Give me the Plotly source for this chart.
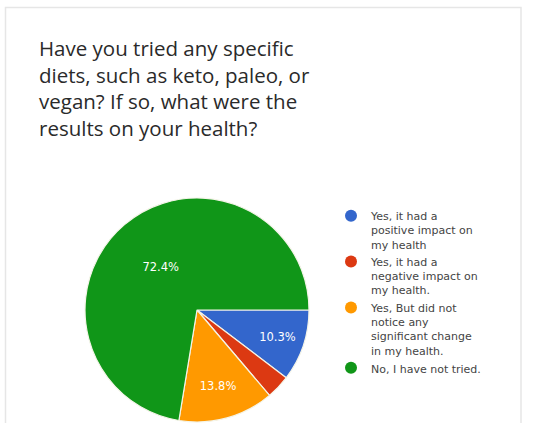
import plotly.graph_objects as go

# Data
categories = [
    "Yes, it had a<br>positive impact on<br>my health",
    "Yes, it had a<br>negative impact on<br>my health.",
    "Yes, But did not<br>notice any<br>significant change<br>in my health.",
    "No, I have not tried.",
]
counts = [3, 1, 4, 21]
colors = ["#3366cc", "#dc3912", "#ff9900", "#109618"]
title_lines = [
    "Have you tried any specific",
    "diets, such as keto, paleo, or",
    "vegan? If so, what were the",
    "results on your health?",
]

W, H = 533, 423
def px(x):
    return x / W
def py(y):
    return 1 - y / H

total = sum(counts)
labels_text = [f"{c / total * 100:.1f}%" if c / total >= 0.05 else "" for c in counts]

fig = go.Figure()
fig.add_trace(go.Pie(
    labels=categories,
    values=counts,
    text=labels_text,
    textinfo="text",
    textposition="inside",
    insidetextfont=dict(color="white", size=11.5, family="DejaVu Sans, Arial, sans-serif"),
    marker=dict(colors=colors, line=dict(color="#f4f4e8", width=1.2)),
    sort=False,
    direction="clockwise",
    rotation=90,
    showlegend=False,
    hoverinfo="label+percent",
    domain=dict(x=[px(84), px(310)], y=[py(422), py(198)]),
))

# Legend entries with circle markers
for i, (name, col) in enumerate(zip(categories, colors)):
    fig.add_trace(go.Scatter(
        x=[None], y=[None], mode="markers",
        marker=dict(color=col, size=12, symbol="circle"),
        name=name, showlegend=True, legendgroup=str(i),
    ))

fig.update_layout(
    width=W, height=H,
    margin=dict(l=0, r=0, t=0, b=0),
    paper_bgcolor="white",
    plot_bgcolor="white",
    xaxis=dict(visible=False),
    yaxis=dict(visible=False),
    font=dict(family="DejaVu Sans, Arial, sans-serif", color="#333333"),
    legend=dict(
        x=px(331), y=py(202), xanchor="left", yanchor="top",
        font=dict(size=11, color="#444444", family="DejaVu Sans, Arial, sans-serif"),
        valign="top",
        tracegroupgap=0,
        itemsizing="constant",
        bgcolor="rgba(0,0,0,0)",
    ),
    shapes=[dict(
        type="rect", xref="paper", yref="paper",
        x0=px(5.5), x1=px(521), y0=py(430), y1=py(7.5),
        line=dict(color="#e6e6e6", width=1.5),
        fillcolor="rgba(0,0,0,0)",
        layer="below",
    )],
    annotations=[dict(
        text="<br>".join(title_lines),
        xref="paper", yref="paper",
        x=px(37), y=py(32), xanchor="left", yanchor="top",
        align="left", showarrow=False,
        font=dict(size=20.5, color="#2a2a2a", family="Open Sans, Arial, sans-serif"),
    )],
)

fig.write_html(
    "out.html",
    config={"displayModeBar": False},
    post_script="document.body.style.margin='0px';",
)
